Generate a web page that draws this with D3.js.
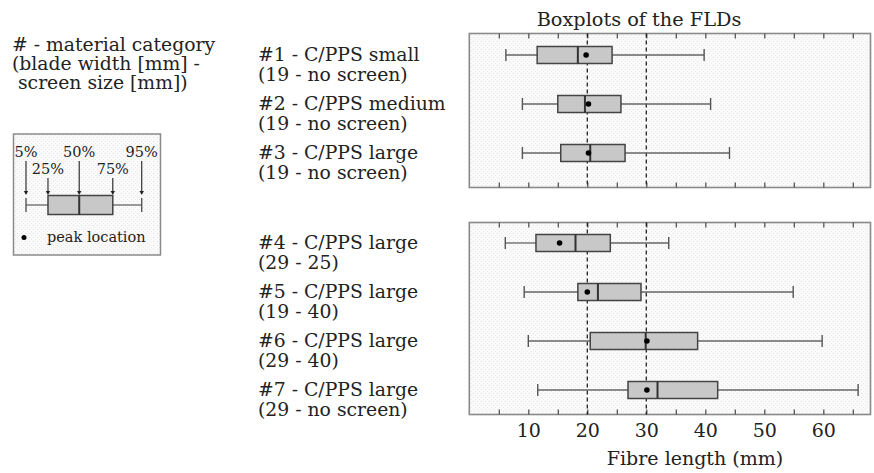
<!DOCTYPE html>
<html><head><meta charset="utf-8">
<script src="https://cdn.jsdelivr.net/npm/d3@7"></script>
<style>
html,body{margin:0;padding:0;background:#fff;}
text{font-family:"DejaVu Serif","Liberation Serif",serif;fill:#222;}
</style></head>
<body>
<svg id="chart" width="874" height="473"></svg>
<script>
// ---- data ----
const topLabels = [["#1 - C/PPS small","(19 - no screen)"],["#2 - C/PPS medium","(19 - no screen)"],["#3 - C/PPS large","(19 - no screen)"]];
const botLabels = [["#4 - C/PPS large","(29 - 25)"],["#5 - C/PPS large","(19 - 40)"],["#6 - C/PPS large","(29 - 40)"],["#7 - C/PPS large","(29 - no screen)"]];
// percentiles: 5%, 25%, 50%, 75%, 95%
const topP05 = [6.2, 9.0, 9.0];
const topP25 = [11.5, 15.0, 15.5];
const topP50 = [18.4, 19.6, 20.5];
const topP75 = [24.2, 25.7, 26.4];
const topP95 = [39.8, 40.9, 44.1];
const topPeak = [19.8, 20.2, 20.2];
const botP05 = [6.1, 9.3, 10.0, 11.6];
const botP25 = [11.3, 18.4, 20.5, 26.9];
const botP50 = [18.0, 21.8, 29.9, 31.9];
const botP75 = [23.9, 29.1, 38.7, 42.1];
const botP95 = [33.8, 54.9, 59.8, 65.9];
const botPeak = [15.3, 20.0, 30.1, 30.1];
const refLines = [20, 30];
const minorTicks = [5,10,15,20,25,30,35,40,45,50,55,60,65];
const tickLabels = [10,20,30,40,50,60];
const headerLines = ["# - material category","(blade width [mm] -"," screen size [mm])"];
const legendPct = ["5%","25%","50%","75%","95%"];
const legendSchematic = [0, 19, 46, 75, 100];
const chartTitle = "Boxplots of the FLDs";
const xTitle = "Fibre length (mm)";

// ---- layout ----
const svg = d3.select("#chart");
const x = d3.scaleLinear().domain([0, 68]).range([469.3, 870.5]);
const panels = [
  {top:33.5, bottom:187.5, labels:topLabels, p05:topP05, p25:topP25, p50:topP50, p75:topP75, p95:topP95, peak:topPeak,
   y:d3.scaleLinear().domain([0,2]).range([55,153])},
  {top:222.5, bottom:414.5, labels:botLabels, p05:botP05, p25:botP25, p50:botP50, p75:botP75, p95:botP95, peak:botPeak,
   y:d3.scaleLinear().domain([0,3]).range([243,390])}
];
const boxH = 17, capH = 12;

// texture pattern
const defs = svg.append("defs");
const pat = defs.append("pattern").attr("id","dots").attr("width",4).attr("height",4).attr("patternUnits","userSpaceOnUse");
pat.append("rect").attr("width",4).attr("height",4).attr("fill","#fafafa");
pat.append("rect").attr("x",1).attr("y",1).attr("width",1).attr("height",1).attr("fill","#e4e4e4");
pat.append("rect").attr("x",3).attr("y",3).attr("width",1).attr("height",1).attr("fill","#ebebeb");

function drawBox(g, y, v05, v25, v50, v75, v95, xs, bh, ch){
  g.append("line").attr("x1",xs(v05)).attr("x2",xs(v25)).attr("y1",y).attr("y2",y).attr("stroke","#666").attr("stroke-width",1.3);
  g.append("line").attr("x1",xs(v75)).attr("x2",xs(v95)).attr("y1",y).attr("y2",y).attr("stroke","#666").attr("stroke-width",1.3);
  g.append("line").attr("x1",xs(v05)).attr("x2",xs(v05)).attr("y1",y-ch/2).attr("y2",y+ch/2).attr("stroke","#555").attr("stroke-width",1.4);
  g.append("line").attr("x1",xs(v95)).attr("x2",xs(v95)).attr("y1",y-ch/2).attr("y2",y+ch/2).attr("stroke","#555").attr("stroke-width",1.4);
  g.append("rect").attr("x",xs(v25)).attr("y",y-bh/2).attr("width",xs(v75)-xs(v25)).attr("height",bh)
    .attr("fill","#c8c8c8").attr("stroke","#444").attr("stroke-width",1.5);
  g.append("line").attr("x1",xs(v50)).attr("x2",xs(v50)).attr("y1",y-bh/2).attr("y2",y+bh/2).attr("stroke","#333").attr("stroke-width",2);
}

panels.forEach(p => {
  const g = svg.append("g");
  g.append("rect").attr("x",x.range()[0]).attr("y",p.top).attr("width",x.range()[1]-x.range()[0]).attr("height",p.bottom-p.top)
    .attr("fill","url(#dots)").attr("stroke","#8a8a8a").attr("stroke-width",1.6);
  // inward ticks
  const tb = g.append("g").attr("transform",`translate(0,${p.top})`).call(d3.axisBottom(x).tickValues(minorTicks).tickSize(5).tickFormat(""));
  const tt = g.append("g").attr("transform",`translate(0,${p.bottom})`).call(d3.axisTop(x).tickValues(minorTicks).tickSize(5).tickFormat(""));
  [tb,tt].forEach(a => { a.select(".domain").remove(); a.selectAll(".tick line").attr("stroke","#555").attr("stroke-width",1.3); });
  // reference lines
  g.selectAll(".ref").data(refLines).join("line")
    .attr("x1",d=>x(d)).attr("x2",d=>x(d)).attr("y1",p.top).attr("y2",p.bottom)
    .attr("stroke","#222").attr("stroke-width",1.3).attr("stroke-dasharray","4,3");
  p.labels.forEach((lab,i) => {
    const yy = p.y(i);
    drawBox(g, yy, p.p05[i], p.p25[i], p.p50[i], p.p75[i], p.p95[i], x, boxH, capH);
    g.append("circle").attr("cx",x(p.peak[i])).attr("cy",yy).attr("r",2.8).attr("fill","#000");
    const t = g.append("text").attr("x",258).attr("y",yy+5.5).attr("font-size",18.8);
    t.append("tspan").attr("x",258).text(lab[0]);
    t.append("tspan").attr("x",258).attr("dy",20).text(lab[1]);
  });
});

// x tick labels
const xl = svg.append("g").attr("transform","translate(0,423)").call(d3.axisBottom(x).tickValues(tickLabels).tickSize(0).tickPadding(0));
xl.select(".domain").remove();
xl.selectAll("text").attr("font-size",19).attr("font-family",null).attr("fill","#222").attr("dy","0.71em");
svg.append("text").attr("x",695).attr("y",465).attr("text-anchor","middle").attr("font-size",19).text(xTitle);
svg.append("text").attr("x",639).attr("y",26).attr("text-anchor","middle").attr("font-size",19.3).text(chartTitle);

// header text
const ht = svg.append("text").attr("x",12).attr("y",51).attr("font-size",18.8);
headerLines.forEach((l,i)=> ht.append("tspan").attr("x",12).attr("dy", i? 19:0).style("white-space","pre").text(l));

// legend box
const lg = svg.append("g");
lg.append("rect").attr("x",13.5).attr("y",134).attr("width",147).attr("height",121).attr("fill","url(#dots)").attr("stroke","#8a8a8a").attr("stroke-width",1.5);
const lx = d3.scaleLinear().domain([0,100]).range([26,141.7]);
const ly = 205;
drawBox(lg, ly, ...legendSchematic, lx, 19, 14);
legendPct.forEach((s,i)=>{
  const xx = lx(legendSchematic[i]);
  const upper = (i % 2 === 0);
  const ty = upper ? 157 : 174;
  lg.append("text").attr("x",xx).attr("y",ty).attr("text-anchor","middle").attr("font-size",14.5).text(s);
  lg.append("line").attr("x1",xx).attr("x2",xx).attr("y1",ty+4).attr("y2",ly-12).attr("stroke","#333").attr("stroke-width",1.2);
  lg.append("path").attr("d",`M${xx-2.2},${ly-14}L${xx+2.2},${ly-14}L${xx},${ly-10}Z`).attr("fill","#222");
});
lg.append("circle").attr("cx",24).attr("cy",237.5).attr("r",2.5).attr("fill","#000");
lg.append("text").attr("x",47).attr("y",242).attr("font-size",14.5).text("peak location");
</script>
</body></html>
